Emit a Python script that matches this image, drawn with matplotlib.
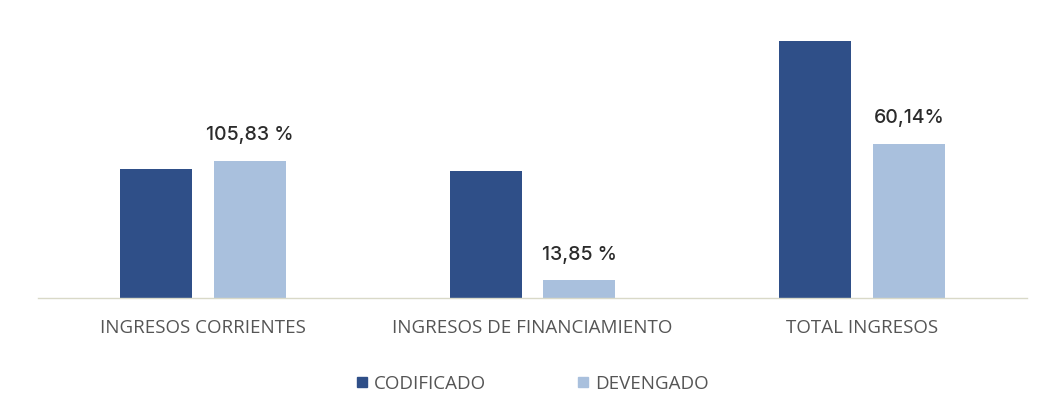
import matplotlib.pyplot as plt
import numpy as np
from matplotlib.lines import Line2D

categorias = ["INGRESOS CORRIENTES", "INGRESOS DE FINANCIAMIENTO", "TOTAL INGRESOS"]
codificado = [129.4, 127.0, 256.4]
devengado = [137.0, 17.6, 154.0]
etiquetas = ["105,83 %", "13,85 %", "60,14%"]

color_cod = "#2f4f88"
color_dev = "#a9c0dd"

fig = plt.figure(figsize=(10.41, 4.09), dpi=100)
ax = fig.add_axes([0.0365, 0.2714, 0.9501, 0.68])

x = np.arange(len(categorias))
ancho = 0.218
desp = 0.142

ax.bar(x - desp, codificado, ancho, color=color_cod)
barras_dev = ax.bar(x + desp, devengado, ancho, color=color_dev)

for barra, txt in zip(barras_dev, etiquetas):
    ax.annotate(txt, (barra.get_x() + barra.get_width() / 2, barra.get_height()),
                xytext=(0, 12), textcoords="offset points", ha="center", va="bottom",
                fontsize=14, color="#2b2b2b", family="Inter", fontweight="medium")

ax.set_xlim(-0.5, 2.5)
ax.set_ylim(0, 278)
ax.set_xticks(x)
ax.set_xticklabels(categorias, fontsize=13.5, color="#555555", family="Open Sans")
ax.tick_params(axis="x", length=0, pad=15)
ax.set_yticks([])
for lado in ["top", "right", "left"]:
    ax.spines[lado].set_visible(False)
ax.spines["bottom"].set_color("#d9d9c8")
ax.spines["bottom"].set_linewidth(1.0)

handles = [
    Line2D([], [], marker="s", linestyle="none", markersize=7, color=color_cod),
    Line2D([], [], marker="s", linestyle="none", markersize=7, color=color_dev),
]
fig.legend(handles, ["CODIFICADO", "DEVENGADO"], loc="center", bbox_to_anchor=(0.512, 0.062),
           ncol=2, frameon=False, handlelength=0.5, handletextpad=0.4, columnspacing=4.95,
           prop={"family": "Open Sans", "size": 13.5}, labelcolor="#555555")

plt.savefig("out.png", dpi=100)
